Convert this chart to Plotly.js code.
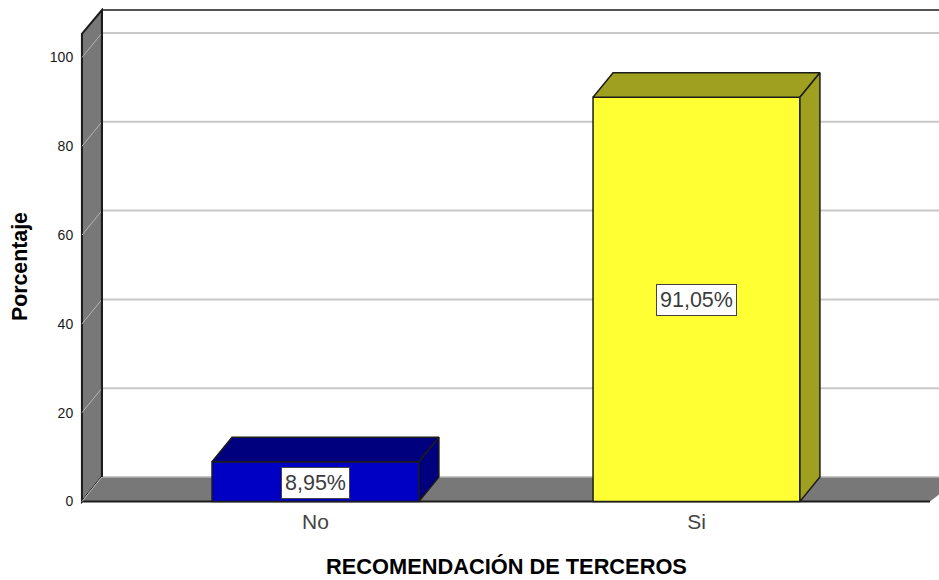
<!DOCTYPE html>
<html>
<head>
<meta charset="utf-8">
<script src="https://cdn.plot.ly/plotly-3.0.1.min.js"></script>
<style>
  html, body { margin: 0; padding: 0; background: #fff; }
  #grafico { width: 939px; height: 580px; }
</style>
</head>
<body>
<div id="grafico"></div>
<script>
/* datos */
const categorias = ["No", "Si"];
const porcentajes = [8.95, 91.05];
const etiquetas = ["8,95%", "91,05%"];
const ticksY = [0, 20, 40, 60, 80, 100];
const tituloX = "RECOMENDACIÓN DE TERCEROS";
const tituloY = "Porcentaje";

/* colores */
const frente = ["#0000c4", "#ffff33"];
const lado = ["#00007f", "#9f9f20"];
const pared = "#787878";
const borde = "#1c1c1c";

/* efecto 3D: profundidad y tamaños en unidades de los ejes */
const anchoBarra = 0.543;
const profX = 20 / 381;
const profY = 24.5 / 4.44;
const frenteTop = 105.3;
const fondoTop = 110.7;
const sueloIni = -0.6129;
const sueloFin = 1.6129;

function poligono(puntos, relleno, linea, ancho) {
  const d = puntos.map((p, i) => (i ? "L" : "M") + p[0] + "," + p[1]).join(" ") + " Z";
  return {
    type: "path", xref: "x", yref: "y", layer: "below", path: d,
    fillcolor: relleno, line: { color: linea, width: ancho },
  };
}

function linea(x0, y0, x1, y1, color, ancho) {
  return {
    type: "line", xref: "x", yref: "y", layer: "below",
    x0, y0, x1, y1, line: { color, width: ancho },
  };
}

const formas = [];

// lineas de la pared del fondo
ticksY.forEach((t) => {
  if (t > 0) formas.push(linea(sueloIni + profX, t + profY, 1.7, t + profY, "#c8c8c8", 2));
});

// pared izquierda
formas.push(poligono([
  [sueloIni, 0], [sueloIni, frenteTop], [sueloIni + profX, fondoTop], [sueloIni + profX, profY],
], pared, borde, 2));
ticksY.forEach((t) => {
  formas.push(linea(sueloIni, t, sueloIni + profX, t + profY, "#b4b4b4", 1));
});

// suelo
formas.push(poligono([
  [sueloIni, 0], [sueloIni + profX, profY], [sueloFin + profX + 0.03, profY], [sueloFin, 0],
], pared, pared, 0));
formas.push(linea(sueloIni, 0, sueloFin, 0, borde, 2));
formas.push(linea(sueloIni + profX, profY, 1.7, profY, "#b4b4b4", 1.5));
formas.push(linea(sueloIni, 0, sueloIni + profX, profY, "#b4b4b4", 1));

// borde superior del fondo
formas.push(linea(sueloIni + profX, fondoTop, 1.7, fondoTop, borde, 1.5));
formas.push(linea(sueloIni + profX, fondoTop, sueloIni + profX, profY, borde, 2));

const posiciones = categorias.map((c, i) => i);

const trazas = [{
  type: "bar",
  x: posiciones,
  y: porcentajes,
  width: anchoBarra,
  marker: { color: frente, line: { color: borde, width: 1.5 } },
  hoverinfo: "skip",
}];

// caras superior y lateral de cada barra
categorias.forEach((c, i) => {
  const izq = posiciones[i] - anchoBarra / 2;
  const der = posiciones[i] + anchoBarra / 2;
  const v = porcentajes[i];
  trazas.push({
    type: "scatter", mode: "lines", fill: "toself", fillcolor: lado[i],
    line: { color: borde, width: 1.5 }, hoverinfo: "skip",
    x: [izq, izq + profX, der + profX, der, izq],
    y: [v, v + profY, v + profY, v, v],
  });
  trazas.push({
    type: "scatter", mode: "lines", fill: "toself", fillcolor: lado[i],
    line: { color: borde, width: 1.5 }, hoverinfo: "skip",
    x: [der, der + profX, der + profX, der, der],
    y: [0, profY, v + profY, v, 0],
  });
});

const anotaciones = categorias.map((c, i) => ({
  x: posiciones[i], y: porcentajes[i] / 2, xref: "x", yref: "y", yshift: -1,
  text: etiquetas[i], showarrow: false,
  font: { family: "Liberation Sans, Arial, sans-serif", size: 21.5, color: "#3c3c3c" },
  bgcolor: "#ffffff", bordercolor: "#444444", borderwidth: 1, borderpad: 3,
}));

// titulos de los ejes
anotaciones.push({
  xref: "paper", yref: "paper", xanchor: "center", yanchor: "middle",
  x: (506.5 - 80) / 859, y: (504 - 566) / 496,
  text: "<b>" + tituloX + "</b>", showarrow: false,
  font: { size: 21.8, color: "#000" },
});
anotaciones.push({
  xref: "paper", yref: "paper", xanchor: "center", yanchor: "middle",
  x: (20 - 80) / 859, y: (504 - 267) / 496, textangle: -90,
  text: "<b>" + tituloY + "</b>", showarrow: false,
  font: { size: 21.3, color: "#000" },
});

const layout = {
  width: 939,
  height: 580,
  margin: { l: 80, r: 0, t: 8, b: 76 },
  paper_bgcolor: "#ffffff",
  plot_bgcolor: "#ffffff",
  showlegend: false,
  hovermode: false,
  font: { family: "Liberation Sans, Arial, sans-serif", color: "#000" },
  xaxis: {
    range: [-0.618, 1.6365],
    tickmode: "array",
    tickvals: posiciones,
    ticktext: categorias,
    tickfont: { size: 21, color: "#444444" },
    ticks: "",
    ticklabelstandoff: 3,
    showgrid: false, zeroline: false, showline: false,
  },
  yaxis: {
    range: [-0.563, 111.15],
    tickmode: "array",
    tickvals: ticksY,
    tickfont: { size: 14, color: "#1a1a1a" },
    ticks: "outside", ticklen: 3, tickcolor: "rgba(0,0,0,0)",
    showgrid: false, zeroline: false, showline: false,
  },
  shapes: formas,
  annotations: anotaciones,
};

Plotly.newPlot("grafico", trazas, layout, { displayModeBar: false, responsive: false });
</script>
</body>
</html>
